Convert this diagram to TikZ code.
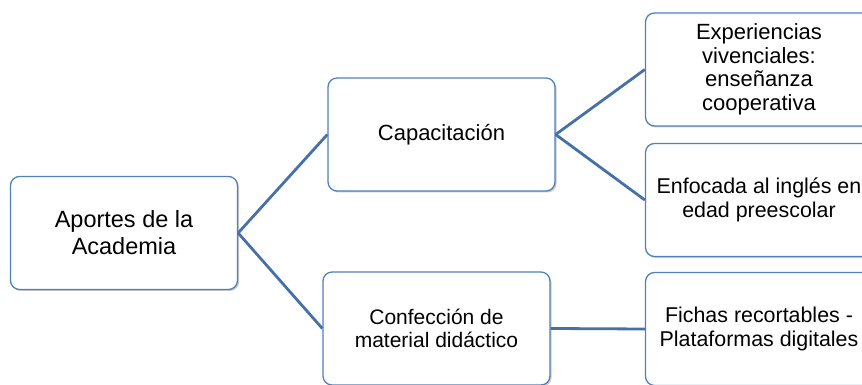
\documentclass[tikz,border=0pt]{standalone}
\usepackage{fontspec}
\setmainfont{Liberation Sans}
\usetikzlibrary{shadows}
\definecolor{bblue}{RGB}{79,129,189}
\definecolor{lblue}{RGB}{72,112,168}
\tikzset{
  box/.style={draw=bblue, line width=1.3pt, fill=white, rounded corners=9pt,
    minimum width=227pt, minimum height=113pt, align=center, inner sep=0pt,
    font=\fontsize{22}{23.5}\selectfont,
    drop shadow={shadow xshift=1.5pt, shadow yshift=-1.5pt, fill=black!35, opacity=0.6}},
  link/.style={draw=lblue, line width=2.8pt}
}
\begin{document}
\begin{tikzpicture}[x=1pt,y=1pt]
\useasboundingbox (0,0) rectangle (862,385);
\clip (0,0) rectangle (862,385);
\node[box, font=\fontsize{23.5}{27}\selectfont] (a) at (124,152) {Aportes de la\\Academia};
\node[box] (cap) at (441.5,250.5) {Capacitación};
\node[box, font=\fontsize{21}{22.5}\selectfont] (conf) at (436.5,56.5) {Confección de\\material didáctico};
\node[box] (exp) at (759,315.5) {Experiencias\\vivenciales:\\enseñanza\\cooperativa};
\node[box, font=\fontsize{21.4}{23.5}\selectfont] (enf) at (759,185) {Enfocada al inglés en\\edad preescolar};
\node[box, font=\fontsize{21.4}{23.5}\selectfont] (fich) at (759,56) {Fichas recortables -\\Plataformas digitales};
\draw[link] (a.east) -- (cap.west);
\draw[link] (a.east) -- (conf.west);
\draw[link] (cap.east) -- (exp.west);
\draw[link] (cap.east) -- (enf.west);
\draw[link] (conf.east) -- (fich.west);
\end{tikzpicture}
\end{document}
